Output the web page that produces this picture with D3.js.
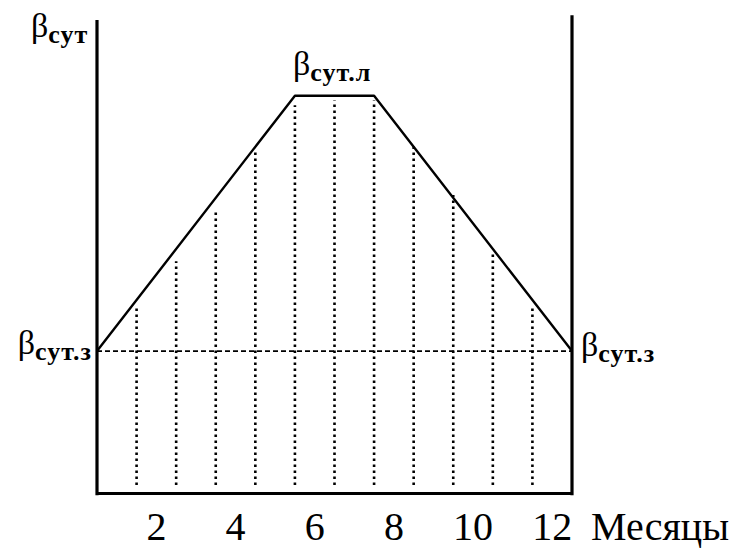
<!DOCTYPE html>
<html>
<head>
<meta charset="utf-8">
<script src="https://cdn.jsdelivr.net/npm/d3@7"></script>
<style>
  body { margin: 0; background: #fff; }
</style>
</head>
<body>
<div id="chart"></div>
<script>
// schematic values (arbitrary units, axis top = 100)
var months = d3.range(1, 13);
var tickMonths = [2, 4, 6, 8, 10, 12];
var profileMonths = [0, 5, 7, 12];
var profileValues = [30, 84, 84, 30];
var winterValue = 30;
var summerValue = 84;
var gridMonths = [1, 2, 3, 4, 5, 6, 7, 8, 9, 10, 11];
var gridTops = [39, 49, 60, 72, 82, 83, 83, 74, 63, 51, 39];

var svgWidth = 737;
var svgHeight = 548;
var fontFamily = "'Liberation Serif', serif";

var svg = d3.select("#chart")
  .append("svg")
  .attr("width", svgWidth)
  .attr("height", svgHeight);

var xLinearScale = d3.scaleLinear()
  .domain([0, 12])
  .range([97, 572]);

// month bands for the labels (month n sits between n-1 and n)
var xBand = d3.scaleBand()
  .domain(months)
  .range([97, 572]);

var yLinearScale = d3.scaleLinear()
  .domain([0, 100])
  .range([493, 20]);

// dotted verticals
svg.selectAll(".grid")
  .data(gridMonths)
  .enter()
  .append("line")
  .attr("class", "grid")
  .attr("x1", d => xLinearScale(d))
  .attr("x2", d => xLinearScale(d))
  .attr("y1", yLinearScale(1.7))
  .attr("y2", (d, i) => yLinearScale(gridTops[i]))
  .attr("stroke", "#000")
  .attr("stroke-width", 2.6)
  .attr("stroke-dasharray", "2.5,3.5");

// winter level
svg.append("line")
  .attr("x1", xLinearScale(0))
  .attr("x2", xLinearScale(12))
  .attr("y1", yLinearScale(winterValue))
  .attr("y2", yLinearScale(winterValue))
  .attr("stroke", "#000")
  .attr("stroke-width", 1.8)
  .attr("stroke-dasharray", "5,3");

// profile
var line = d3.line()
  .x(d => xLinearScale(d[0]))
  .y(d => yLinearScale(d[1]));

svg.append("path")
  .datum(profileMonths.map((m, i) => [m, profileValues[i]]))
  .attr("d", line)
  .attr("fill", "none")
  .attr("stroke", "#000")
  .attr("stroke-width", 2.4)
  .attr("stroke-linejoin", "round");

// left axis and right border
svg.append("line")
  .attr("x1", xLinearScale(0)).attr("x2", xLinearScale(0))
  .attr("y1", yLinearScale(-0.5)).attr("y2", yLinearScale(100))
  .attr("stroke", "#000").attr("stroke-width", 3.2);

svg.append("line")
  .attr("x1", xLinearScale(12)).attr("x2", xLinearScale(12))
  .attr("y1", yLinearScale(-0.5)).attr("y2", yLinearScale(101))
  .attr("stroke", "#000").attr("stroke-width", 3.2);

// bottom axis
var bottomAxis = d3.axisBottom(xBand)
  .tickValues(tickMonths)
  .tickSize(0)
  .tickSizeOuter(0)
  .tickPadding(19);

var xAxis = svg.append("g")
  .attr("transform", `translate(0, ${yLinearScale(0)})`)
  .call(bottomAxis);

xAxis.select(".domain")
  .attr("stroke", "#000")
  .attr("stroke-width", 3.2);

xAxis.selectAll("text")
  .style("font-family", fontFamily, "important")
  .style("font-size", "40px")
  .attr("fill", "#000");

svg.append("text")
  .attr("x", 591)
  .attr("y", 540)
  .attr("textLength", 138)
  .attr("lengthAdjust", "spacingAndGlyphs")
  .style("font-family", fontFamily, "important")
  .style("font-size", "41px")
  .text("Месяцы");

// beta labels
function betaLabel(x, y, sub, anchor) {
  var t = svg.append("text")
    .attr("x", x)
    .attr("y", y)
    .style("font-family", fontFamily, "important")
    .attr("text-anchor", anchor || "start");
  t.append("tspan")
    .style("font-family", fontFamily, "important")
    .style("font-size", "34px")
    .text("β");
  t.append("tspan")
    .attr("dy", 6)
    .style("font-family", fontFamily, "important")
    .style("font-size", "26px")
    .style("font-weight", "bold")
    .style("letter-spacing", "1px")
    .text(sub);
}

betaLabel(xLinearScale(0) - 66, yLinearScale(100) + 17, "сут");
betaLabel(xLinearScale(5) - 2, yLinearScale(summerValue) - 21, "сут.л");
betaLabel(xLinearScale(0) - 5, yLinearScale(winterValue) + 3, "сут.з", "end");
betaLabel(xLinearScale(12) + 9, yLinearScale(winterValue) + 5, "сут.з");
</script>
</body>
</html>
